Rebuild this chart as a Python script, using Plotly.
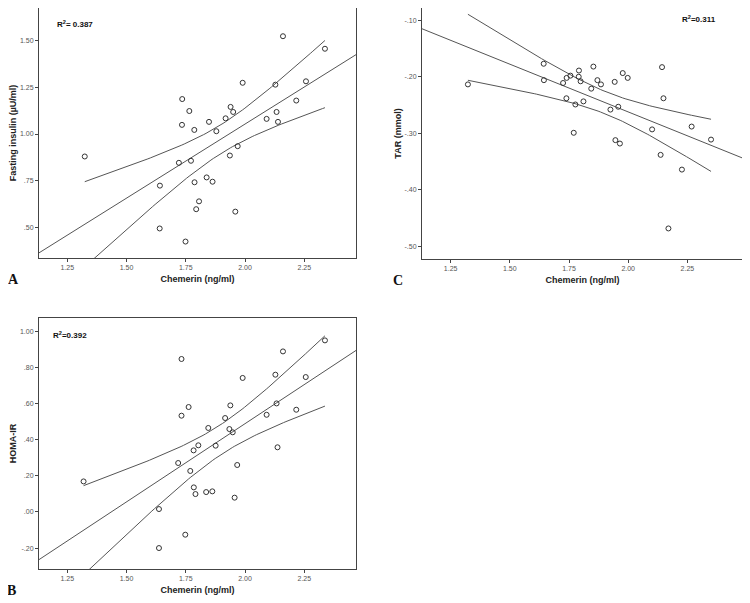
import numpy as np
import plotly.graph_objects as go

# page is offset by the 8px default body margin; figure sized to fill the rest
OFF = 8
W, H = 750 - OFF, 603 - OFF

# ---- Panel A: Fasting insulin vs Chemerin ----
chem_A = [1.324, 1.735, 1.765, 1.734, 1.786, 1.848, 1.879, 1.918, 1.939, 1.950, 1.990,
          2.160, 2.337, 2.128, 2.257, 2.216, 2.091, 2.133, 2.139, 1.969, 1.936, 1.721,
          1.772, 1.641, 1.787, 1.838, 1.863, 1.806, 1.794, 1.959, 1.640, 1.749]
insulin_A = [0.880, 1.187, 1.123, 1.049, 1.022, 1.065, 1.015, 1.084, 1.145, 1.118, 1.274,
             1.523, 1.456, 1.264, 1.282, 1.179, 1.081, 1.118, 1.065, 0.935, 0.885, 0.846,
             0.857, 0.724, 0.742, 0.768, 0.745, 0.640, 0.598, 0.585, 0.495, 0.425]

# ---- Panel C: TAR vs Chemerin ----
chem_C = [1.323, 1.643, 1.644, 1.725, 1.740, 1.756, 1.792, 1.791, 1.799, 1.853, 1.870,
          1.885, 1.844, 1.943, 1.977, 1.998, 2.143, 2.149, 1.739, 1.777, 1.811, 1.925,
          1.958, 1.770, 1.946, 1.965, 2.101, 2.268, 2.350, 2.137, 2.227, 2.170]
tar_C = [-0.2135, -0.177, -0.206, -0.211, -0.202, -0.198, -0.189, -0.200, -0.208, -0.182,
         -0.206, -0.2135, -0.221, -0.209, -0.1935, -0.202, -0.183, -0.238, -0.238, -0.249,
         -0.2435, -0.258, -0.253, -0.299, -0.312, -0.318, -0.293, -0.288, -0.311, -0.338,
         -0.364, -0.468]

# ---- Panel B: HOMA-IR vs Chemerin ----
chem_B = [1.319, 1.732, 1.762, 1.732, 1.845, 1.916, 1.938, 1.934, 1.948, 1.990, 2.128,
          2.160, 2.337, 2.256, 2.091, 2.133, 2.216, 1.803, 1.783, 1.876, 2.137, 1.718,
          1.769, 1.967, 1.784, 1.791, 1.836, 1.862, 1.956, 1.637, 1.748, 1.637]
homa_B = [0.169, 0.847, 0.581, 0.533, 0.465, 0.520, 0.590, 0.459, 0.441, 0.742, 0.760,
          0.889, 0.950, 0.747, 0.538, 0.601, 0.566, 0.369, 0.341, 0.367, 0.358, 0.271,
          0.227, 0.260, 0.136, 0.099, 0.110, 0.114, 0.079, 0.016, -0.126, -0.200]

x_ticks = [1.25, 1.50, 1.75, 2.00, 2.25]
x_ticklabels = ["1.25", "1.50", "1.75", "2.00", "2.25"]
A_ticks = [0.50, 0.75, 1.00, 1.25, 1.50]
A_ticklabels = [".50", ".75", "1.00", "1.25", "1.50"]
C_ticks = [-0.50, -0.40, -0.30, -0.20, -0.10]
C_ticklabels = ["-.50", "-.40", "-.30", "-.20", "-.10"]
B_ticks = [-0.20, 0.00, 0.20, 0.40, 0.60, 0.80, 1.00]
B_ticklabels = ["-.20", ".00", ".20", ".40", ".60", ".80", "1.00"]

r2_labels = {"A": "R<sup>2</sup>= 0.387", "C": "R<sup>2</sup>=0.311", "B": "R<sup>2</sup>=0.392"}

T_CRIT = 2.042  # 95%, df = 30


def clamp(v):
    return max(0.0, min(1.0, v))


def px_x(p):
    return clamp((p - OFF) / W)


def px_y(p):
    return clamp(1 - (p - OFF) / H)


panels = [
    ("A", chem_A, insulin_A, [1.131, 2.468], [0.337, 1.674], (39, 8, 356, 258),
     "Fasting insulin (µU/ml)", A_ticks, A_ticklabels),
    ("C", chem_C, tar_C, [1.129, 2.485], [-0.522, -0.0785], (422, 8, 743, 259),
     "TAR (mmol)", C_ticks, C_ticklabels),
    ("B", chem_B, homa_B, [1.131, 2.468], [-0.316, 1.074], (39, 318, 356, 569),
     "HOMA-IR", B_ticks, B_ticklabels),
]

fig = go.Figure()
line_col = "#555555"
annotations = []

for i, (name, xs, ys, xr, yr, box, ytitle, yt, ytl) in enumerate(panels):
    idx = "" if i == 0 else str(i + 1)
    xa, ya = "x" + idx, "y" + idx
    x = np.array(xs)
    y = np.array(ys)
    n = len(x)
    b1, b0 = np.polyfit(x, y, 1)
    resid = y - (b0 + b1 * x)
    s = np.sqrt(np.sum(resid ** 2) / (n - 2))
    sxx = np.sum((x - x.mean()) ** 2)
    xl = np.linspace(xr[0], xr[1], 100)
    xc = np.linspace(x.min(), x.max(), 100)
    yc = b0 + b1 * xc
    se = s * np.sqrt(1.0 / n + (xc - x.mean()) ** 2 / sxx)

    for xx, yy in [(xl, b0 + b1 * xl), (xc, yc + T_CRIT * se), (xc, yc - T_CRIT * se)]:
        fig.add_trace(go.Scatter(x=xx, y=yy, mode="lines", xaxis=xa, yaxis=ya,
                                 line=dict(color=line_col, width=1), showlegend=False,
                                 hoverinfo="skip"))
    fig.add_trace(go.Scatter(x=xs, y=ys, mode="markers", xaxis=xa, yaxis=ya,
                             marker=dict(symbol="circle-open", size=5,
                                         color="#333333", line=dict(width=1)),
                             showlegend=False))

    l, t, r, b = box
    axis_common = dict(showgrid=False, zeroline=False, showline=True, linecolor="#444444",
                       linewidth=1, mirror=True, ticks="outside", ticklen=3,
                       tickcolor="#444444",
                       tickfont=dict(family="Liberation Sans, Arial", size=7, color="#555555"))
    fig.update_layout(**{
        "xaxis" + idx: dict(domain=[px_x(l), px_x(r)], range=xr, anchor=ya,
                            tickvals=x_ticks, ticktext=x_ticklabels,
                            title=dict(text="<b>Chemerin (ng/ml)</b>", standoff=5,
                                       font=dict(family="Liberation Sans, Arial", size=9,
                                                 color="#222222")),
                            **axis_common),
        "yaxis" + idx: dict(domain=[px_y(b), px_y(t)], range=yr, anchor=xa,
                            tickvals=yt, ticktext=ytl,
                            title=dict(text="<b>" + ytitle + "</b>", standoff=1,
                                       font=dict(family="Liberation Sans, Arial", size=9,
                                                 color="#222222")),
                            **axis_common),
    })

# R² labels
for key, px, py in [("A", 55, 24), ("C", 680, 19), ("B", 51, 335)]:
    annotations.append(dict(x=px_x(px), y=px_y(py), xref="paper", yref="paper",
                            text="<b>" + r2_labels[key] + "</b>", showarrow=False,
                            xanchor="left", yanchor="middle",
                            font=dict(family="Liberation Sans, Arial", size=8,
                                      color="#111111")))

# Panel letters
for letter, px, py in [("A", 13, 280), ("C", 398, 281), ("B", 11, 590)]:
    annotations.append(dict(x=px_x(px), y=px_y(py), xref="paper", yref="paper",
                            text="<b>" + letter + "</b>", showarrow=False,
                            xanchor="center", yanchor="middle",
                            font=dict(family="Liberation Serif, Times New Roman", size=14,
                                      color="#111111")))

fig.update_layout(width=W, height=H, margin=dict(l=0, r=0, t=0, b=0),
                  paper_bgcolor="white", plot_bgcolor="white",
                  annotations=annotations)

fig.write_html("out.html")
